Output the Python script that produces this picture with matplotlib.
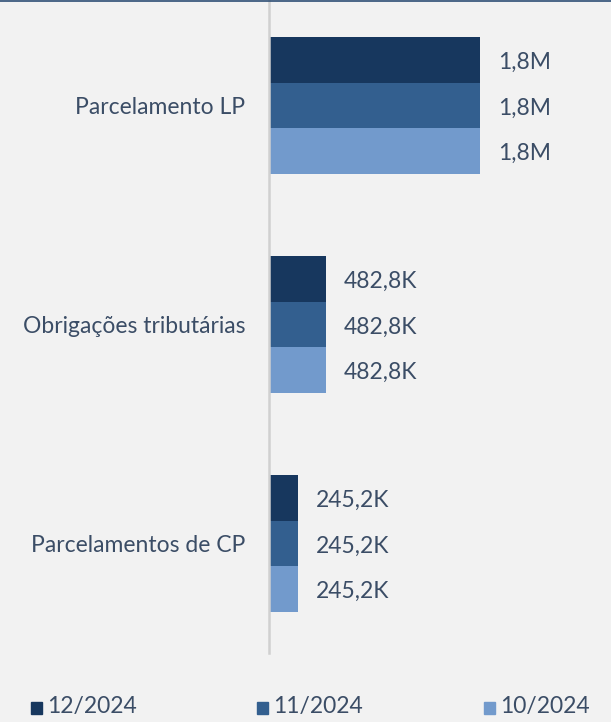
import matplotlib
matplotlib.use("Agg")
import matplotlib.pyplot as plt
import numpy as np

categories = ["Parcelamento LP", "Obrigações tributárias", "Parcelamentos de CP"]
series_names = ["12/2024", "11/2024", "10/2024"]
values_dec = [1.80e6, 482.8e3, 245.2e3]
values_nov = [1.80e6, 482.8e3, 245.2e3]
values_oct = [1.80e6, 482.8e3, 245.2e3]
colors = ["#17375e", "#335f8f", "#729acc"]

BG = "#f2f2f2"
TXT = "#3b4d66"
FONT = ["Lato", "DejaVu Sans"]
FS = 16.5

def fmt(v):
    if v >= 1e6:
        return f"{v/1e6:.1f}M".replace(".", ",")
    return f"{v/1e3:.1f}K".replace(".", ",")

fig = plt.figure(figsize=(6.11, 7.22), dpi=100, facecolor=BG)
ax = fig.add_axes([0.4403, 0.0956, 0.5397, 0.91])
ax.set_facecolor(BG)

y = np.arange(len(categories))
h = 0.208
all_series = [values_dec, values_nov, values_oct]
for i, (vals, c, name) in enumerate(zip(all_series, colors, series_names)):
    pos = y + (i - 1) * h
    ax.barh(pos, vals, height=h, color=c, label=name, edgecolor="none")
    for p, v in zip(pos, vals):
        ax.annotate(fmt(v), xy=(v, p), xytext=(13, -2), textcoords="offset points",
                    va="center", ha="left", fontsize=FS, color=TXT, family=FONT)

ax.set_xlim(0, 2.815e6)
ax.set_ylim(2.5, -0.5)
ax.set_yticks(y)
ax.set_yticklabels(categories, fontsize=FS, color=TXT, family=FONT)
ax.tick_params(axis="y", length=0, pad=17)
ax.set_xticks([])
for s in ["top", "right", "bottom"]:
    ax.spines[s].set_visible(False)
ax.spines["left"].set_color("#d0d0d0")
ax.spines["left"].set_linewidth(1.8)

# top border line
fig.add_artist(plt.Line2D([0, 1], [0.999, 0.999], transform=fig.transFigure,
                          color="#2e4e74", linewidth=1.2))

mx = [0.0507, 0.4206, 0.792]
tx = [0.077, 0.4468, 0.818]
for m, t, name, c in zip(mx, tx, series_names, colors):
    fig.patches.append(plt.Rectangle((m, 0.011), 0.018, 0.0166, transform=fig.transFigure,
                                     color=c))
    fig.text(t, 0.022, name, fontsize=FS, color=TXT, family=FONT,
             va="center", ha="left")

fig.savefig("out.png", dpi=100, facecolor=BG)
